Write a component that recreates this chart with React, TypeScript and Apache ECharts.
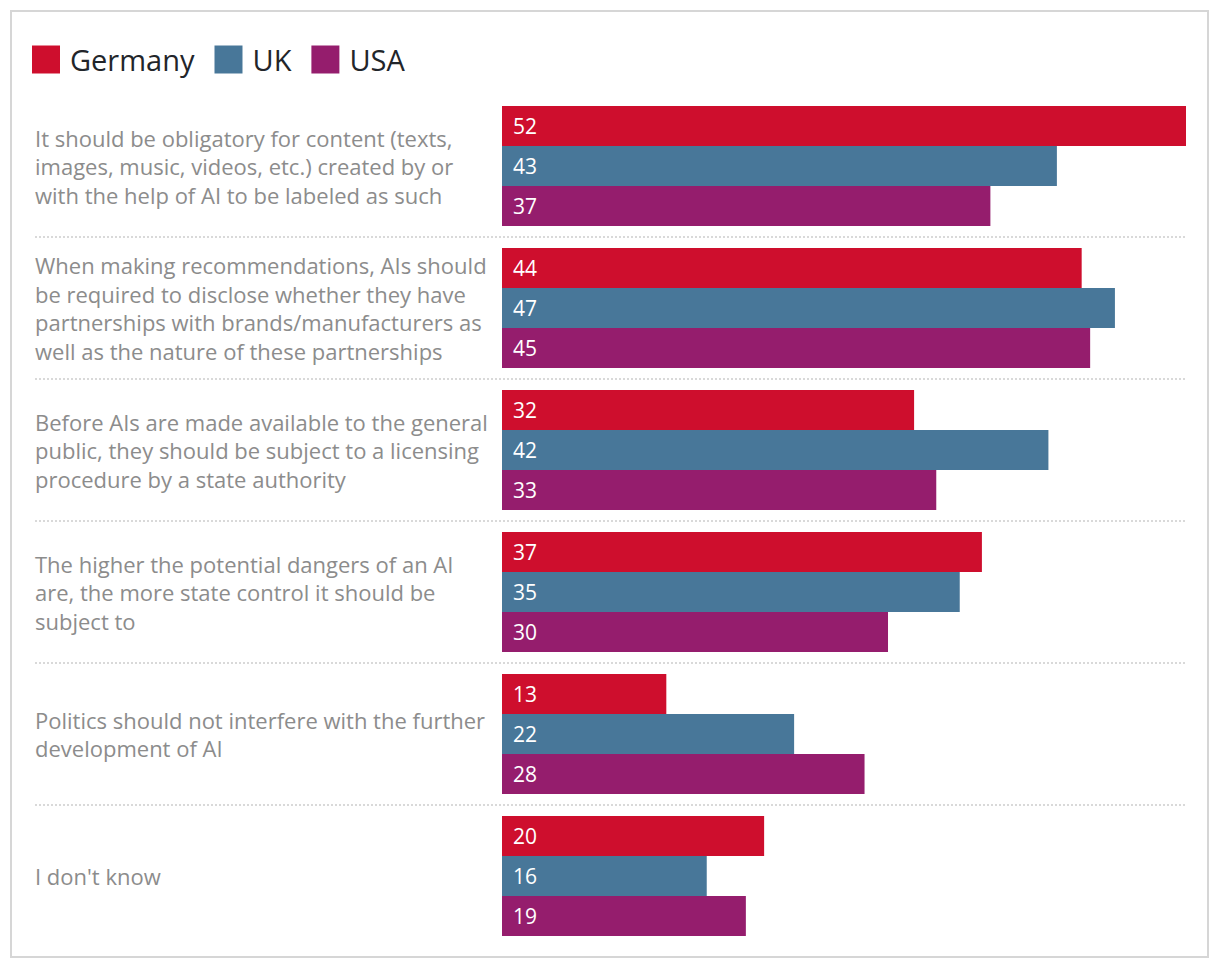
import React, { useEffect, useRef } from "react";
import * as echarts from "echarts";

const categories = [
  "It should be obligatory for content (texts,\nimages, music, videos, etc.) created by or\nwith the help of AI to be labeled as such",
  "When making recommendations, AIs should\nbe required to disclose whether they have\npartnerships with brands/manufacturers as\nwell as the nature of these partnerships",
  "Before AIs are made available to the general\npublic, they should be subject to a licensing\nprocedure by a state authority",
  "The higher the potential dangers of an AI\nare, the more state control it should be\nsubject to",
  "Politics should not interfere with the further\ndevelopment of AI",
  "I don't know",
];
const seriesNames = ["Germany", "UK", "USA"];
const germany = [52.45, 44.45, 31.6, 36.8, 12.6, 20.1];
const uk = [42.55, 47.0, 41.9, 35.1, 22.4, 15.7];
const usa = [37.45, 45.1, 33.3, 29.6, 27.8, 18.7];

const colors = ["#CE0E2D", "#487799", "#951D6D"];
const FONT = "'Open Sans', 'Noto Sans', sans-serif";

export default function App() {
  const ref = useRef<HTMLDivElement>(null);
  useEffect(() => {
    if (!ref.current) return;
    const chart = echarts.init(ref.current, undefined, { renderer: "svg" });
    const gridLeft = 494;
    const gridWidth = 684;
    const labelMargin = 467;
    const values = [germany, uk, usa];
    chart.setOption({
      animation: false,
      color: colors,
      textStyle: { fontFamily: FONT },
      legend: {
        left: 19,
        top: 32,
        padding: 5,
        itemWidth: 28,
        itemHeight: 28,
        itemGap: 20,
        icon: "rect",
        data: seriesNames,
        textStyle: { fontSize: 29, color: "#22252a", fontFamily: FONT, padding: [0, 0, 0, 5] },
      },
      grid: { left: gridLeft, top: 87, width: gridWidth, height: 852 },
      xAxis: {
        type: "value",
        min: 0,
        max: "dataMax",
        show: false,
      },
      yAxis: {
        type: "category",
        inverse: true,
        data: categories,
        axisLine: { show: false },
        axisTick: { show: false },
        splitLine: { show: false },
        axisLabel: {
          align: "left",
          margin: labelMargin,
          fontSize: 22,
          lineHeight: 28.5,
          color: "#8c8c8c",
          fontFamily: FONT,
        },
      },
      series: seriesNames.map((name, k) => ({
        name,
        type: "bar",
        data: values[k],
        barWidth: 40,
        barGap: "0%",
        label: {
          show: true,
          position: "insideLeft",
          distance: 11,
          color: "#ffffff",
          fontSize: 21,
          fontFamily: FONT,
          formatter: (p: any) => String(Math.round(p.value)),
        },
      })),
    });

    const centers = categories.map((_, i) => chart.convertToPixel({ yAxisIndex: 0 }, i) as number);
    const xRight = gridLeft + gridWidth;
    const xLeft = gridLeft - labelMargin;
    const lines: any[] = [];
    for (let i = 0; i < centers.length - 1; i++) {
      const y = Math.round((centers[i] + centers[i + 1]) / 2);
      lines.push({
        type: "line",
        shape: { x1: xLeft, y1: y, x2: xRight, y2: y },
        style: { stroke: "#d9d9d9", lineWidth: 2, lineDash: [2, 2] },
        silent: true,
      });
    }
    chart.setOption({
      graphic: [
        {
          type: "rect",
          shape: { x: 3, y: 3, width: 1197, height: 946 },
          style: { fill: "none", stroke: "#d6d6d6", lineWidth: 2 },
          silent: true,
          z: -1,
        },
        ...lines,
      ],
    });
    return () => chart.dispose();
  }, []);
  return <div ref={ref} style={{ width: 1204, height: 954 }} />;
}
